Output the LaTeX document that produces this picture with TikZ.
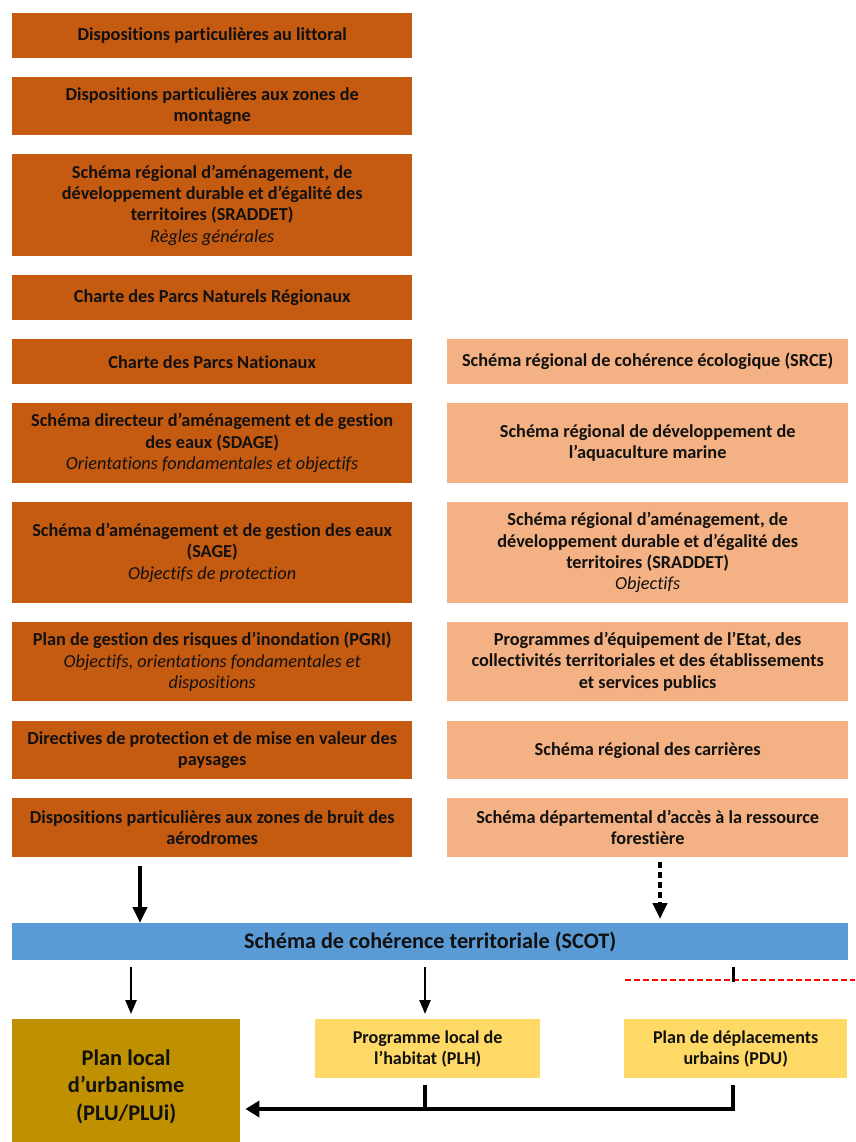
\documentclass[tikz,border=0pt]{standalone}
\usepackage{fontspec}
\setmainfont[Ligatures=NoCommon]{Carlito}
\usetikzlibrary{arrows.meta,calc}
\definecolor{darkor}{HTML}{C55A11}
\definecolor{lightor}{HTML}{F4B183}
\definecolor{scotblue}{HTML}{5B9BD5}
\definecolor{plugold}{HTML}{BF9000}
\definecolor{plhyel}{HTML}{FFD966}
\definecolor{txt}{HTML}{111111}
\tikzset{
  base/.style={anchor=north west, inner sep=0pt, align=center, text=txt,
    font=\fontsize{18.3}{21.3}\selectfont\bfseries},
  leftbox/.style={base, fill=darkor, minimum width=400pt},
  rightbox/.style={base, fill=lightor, minimum width=401pt},
  bigarrow/.style={line width=4pt, -{Triangle[width=14pt,length=16pt]}},
  midarrow/.style={line width=2.5pt, -{Triangle[width=11pt,length=14pt]}},
  joinline/.style={line width=4pt},
}
\newcommand{\sub}[1]{\\{\mdseries\itshape #1}}
\begin{document}
\begin{tikzpicture}[x=1pt,y=1pt]
\useasboundingbox (0,0) rectangle (855,-1142);
% left column
\node[leftbox, minimum height=45pt] (l1) at (12,-13) {Dispositions particulières au littoral};
\node[leftbox, minimum height=58pt] (l2) at (12,-77) {Dispositions particulières aux zones de\\montagne};
\node[leftbox, minimum height=102pt] (l3) at (12,-154) {Schéma régional d’aménagement, de\\développement durable et d’égalité des\\territoires (SRADDET)\sub{Règles générales}};
\node[leftbox, minimum height=45pt] (l4) at (12,-275) {Charte des Parcs Naturels Régionaux};
\node[leftbox, minimum height=45pt] (l5) at (12,-339) {Charte des Parcs Nationaux};
\node[leftbox, minimum height=80pt] (l6) at (12,-403) {Schéma directeur d’aménagement et de gestion\\des eaux (SDAGE)\sub{Orientations fondamentales et objectifs}};
\node[leftbox, minimum height=101pt] (l7) at (12,-502) {Schéma d’aménagement et de gestion des eaux\\(SAGE)\sub{Objectifs de protection}};
\node[leftbox, minimum height=79pt] (l8) at (12,-622) {Plan de gestion des risques d’inondation (PGRI)\sub{Objectifs, orientations fondamentales et}\sub{dispositions}};
\node[leftbox, minimum height=58pt] (l9) at (12,-721) {Directives de protection et de mise en valeur des\\paysages};
\node[leftbox, minimum height=59pt] (l10) at (12,-798) {Dispositions particulières aux zones de bruit des\\aérodromes};
% right column
\node[rightbox, minimum height=45pt] (r1) at (447,-339) {Schéma régional de cohérence écologique (SRCE)};
\node[rightbox, minimum height=80pt] (r2) at (447,-403) {Schéma régional de développement de\\l’aquaculture marine};
\node[rightbox, minimum height=101pt] (r3) at (447,-502) {Schéma régional d’aménagement, de\\développement durable et d’égalité des\\territoires (SRADDET)\sub{Objectifs}};
\node[rightbox, minimum height=79pt] (r4) at (447,-622) {Programmes d’équipement de l’Etat, des\\collectivités territoriales et des établissements\\et services publics};
\node[rightbox, minimum height=58pt] (r5) at (447,-721) {Schéma régional des carrières};
\node[rightbox, minimum height=59pt] (r6) at (447,-798) {Schéma départemental d’accès à la ressource\\forestière};
% SCOT
\node[base, fill=scotblue, minimum width=836pt, minimum height=37pt,
  font=\fontsize{22.2}{26}\selectfont\bfseries] (scot) at (12,-923) {Schéma de cohérence territoriale (SCOT)};
% bottom boxes
\node[base, fill=plugold, minimum width=228pt, minimum height=135pt,
  font=\fontsize{22.4}{27.5}\selectfont\bfseries] (plu) at (12,-1019) {Plan local\\d’urbanisme\\(PLU/PLUi)};
\node[base, fill=plhyel, minimum width=225pt, minimum height=59pt,
  font=\fontsize{18.1}{21}\selectfont\bfseries] (plh) at (315,-1019) {Programme local de\\l’habitat (PLH)};
\node[base, fill=plhyel, minimum width=223pt, minimum height=59pt,
  font=\fontsize{18.1}{21}\selectfont\bfseries] (pdu) at (624,-1019) {Plan de déplacements\\urbains (PDU)};
% arrows into SCOT
\coordinate (a1s) at (140,-866);
\coordinate (a2s) at (660,-862);
\draw[bigarrow] (a1s) -- (a1s |- scot.north);
\draw[bigarrow, dash pattern=on 6pt off 4pt] (a2s) -- ($(a2s |- scot.north)+(0,4)$);
% arrows out of SCOT
\coordinate (b1) at (131,-967);
\coordinate (b2) at (425,-967);
\draw[midarrow] (b1) -- ($(b1 |- plu.north)+(0,5)$);
\draw[midarrow] (b2) -- ($(b2 |- plh.north)+(0,5)$);
% red dashed line and tick
\coordinate (rl) at (625,-980);
\coordinate (rr) at (855,-980);
\draw[red, line width=2.5pt, dash pattern=on 6pt off 3pt] (rl) -- (rr);
\coordinate (tk) at (733,-967);
\draw[line width=3pt] (tk) -- (733,-982);
% bottom join
\coordinate (j1) at ($(plh.south -| b2)+(0,-7)$);
\coordinate (j2) at ($(pdu.south -| tk)+(0,-7)$);
\coordinate (jy) at (0,-1109);
\draw[joinline] (j1) -- (j1 |- jy);
\draw[joinline, -{Triangle[width=16pt,length=14pt]}] (j2) -- (j2 |- jy) -- ($(plu.east |- jy)+(5,0)$);
\end{tikzpicture}
\end{document}
